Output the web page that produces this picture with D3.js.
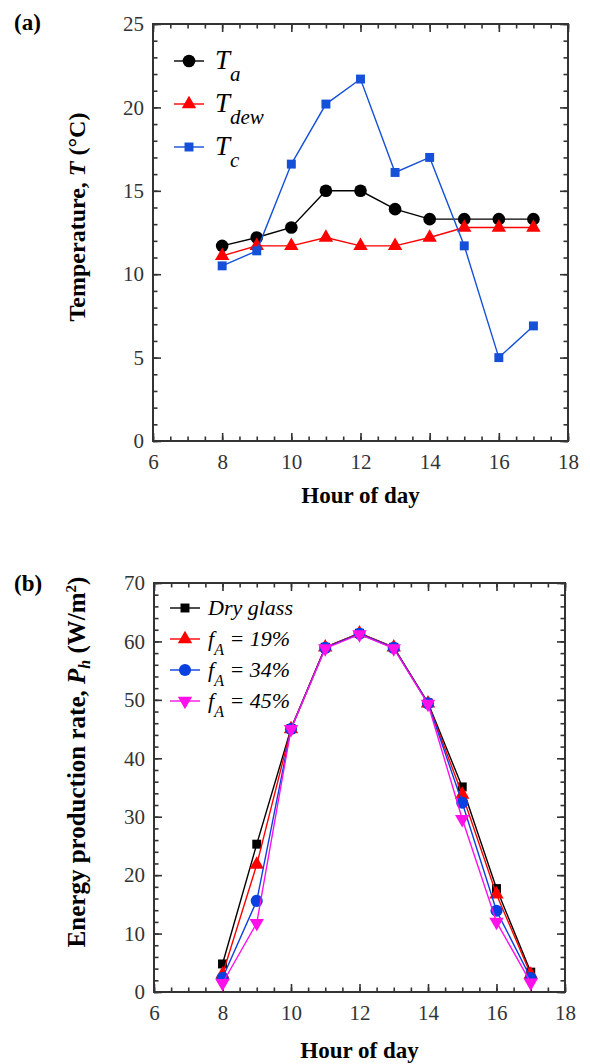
<!DOCTYPE html>
<html>
<head>
<meta charset="utf-8">
<script src="https://cdn.jsdelivr.net/npm/d3@7"></script>
<style>
body { margin: 0; background: #fff; }
svg { display: block; font-family: "Liberation Serif", "Times New Roman", "DejaVu Serif", serif; }
svg text { font-family: "Liberation Serif", "Times New Roman", "DejaVu Serif", serif; }
</style>
</head>
<body>
<svg id="chart" width="590" height="1064"></svg>
<script>
// hours shared by both panels
var hours = [8, 9, 10, 11, 12, 13, 14, 15, 16, 17];

// (a) temperatures, deg C
var tAmbient = [11.7, 12.2, 12.8, 15.0, 15.0, 13.9, 13.3, 13.3, 13.3, 13.3];
var tDew = [11.1, 11.7, 11.7, 12.2, 11.7, 11.7, 12.2, 12.8, 12.8, 12.8];
var tCover = [10.5, 11.4, 16.6, 20.2, 21.7, 16.1, 17.0, 11.7, 5.0, 6.9];

// (b) energy production rate, W/m2
var dryGlass = [4.8, 25.3, 45.1, 59.0, 61.4, 59.0, 49.5, 35.1, 17.7, 3.4];
var fA19 = [3.0, 21.8, 45.0, 59.0, 61.4, 59.0, 49.4, 33.8, 16.7, 3.0];
var fA34 = [2.4, 15.6, 45.0, 58.9, 61.3, 58.9, 49.4, 32.4, 13.9, 2.4];
var fA45 = [1.5, 11.8, 45.0, 58.8, 61.2, 58.8, 49.3, 29.6, 12.0, 1.6];

var xTicks = [6, 8, 10, 12, 14, 16, 18];
var yTicksA = [0, 5, 10, 15, 20, 25];
var yTicksB = [0, 10, 20, 30, 40, 50, 60, 70];

var svg = d3.select("#chart");

function drawFrame(g, x, y, w, h, majX, minX, majY, minY) {
	var axisCol = "#333";
	// minor ticks first, then major
	g.append("g").attr("transform", "translate(0," + h + ")")
		.call(d3.axisBottom(x).tickValues(minX).tickSize(-4.5).tickFormat(""));
	g.append("g")
		.call(d3.axisTop(x).tickValues(minX).tickSize(-4.5).tickFormat(""));
	g.append("g")
		.call(d3.axisLeft(y).tickValues(minY).tickSize(-4.5).tickFormat(""));
	g.append("g").attr("transform", "translate(" + w + ",0)")
		.call(d3.axisRight(y).tickValues(minY).tickSize(-4.5).tickFormat(""));

	g.append("g").attr("transform", "translate(0," + h + ")")
		.call(d3.axisBottom(x).tickValues(majX).tickSize(-8).tickPadding(13).tickFormat(d3.format("d")));
	g.append("g")
		.call(d3.axisTop(x).tickValues(majX).tickSize(-8).tickFormat(""));
	g.append("g")
		.call(d3.axisLeft(y).tickValues(majY).tickSize(-8).tickPadding(9).tickFormat(d3.format("d")));
	g.append("g").attr("transform", "translate(" + w + ",0)")
		.call(d3.axisRight(y).tickValues(majY).tickSize(-8).tickFormat(""));

	g.selectAll("g").attr("font-family", null).attr("font-size", null);
	g.selectAll(".domain").remove();
	g.selectAll(".tick line").attr("stroke", axisCol).attr("stroke-width", 1.6);
	g.selectAll(".tick text").attr("font-size", 21).attr("fill", "#333");
	g.append("rect").attr("width", w).attr("height", h)
		.attr("fill", "none").attr("stroke", axisCol).attr("stroke-width", 2);
}

function marker(sel, shape, col, size) {
	var sym = { circle: d3.symbolCircle, square: d3.symbolSquare, up: d3.symbolTriangle, down: d3.symbolTriangle }[shape];
	sel.attr("d", d3.symbol().type(sym).size(size))
		.attr("fill", col)
		.attr("stroke", "none");
	if (shape == "down") {
		sel.each(function() {
			var t = d3.select(this).attr("transform");
			d3.select(this).attr("transform", t + " rotate(180)");
		});
	}
}

function drawSeries(g, x, y, vals, col, shape, size) {
	var pts = hours.map(function(h, i) { return [h, vals[i]]; });
	g.append("path").datum(pts)
		.attr("fill", "none").attr("stroke", col).attr("stroke-width", 1.4)
		.attr("d", d3.line().x(function(d) { return x(d[0]); }).y(function(d) { return y(d[1]); }));
	g.selectAll(null).data(pts).enter().append("path")
		.attr("transform", function(d) { return "translate(" + x(d[0]) + "," + y(d[1]) + ")"; })
		.call(marker, shape, col, size);
}

function legendRow(g, lx, ly, col, shape, size) {
	g.append("line").attr("x1", lx - 15).attr("x2", lx + 15).attr("y1", ly).attr("y2", ly)
		.attr("stroke", col).attr("stroke-width", 1.4);
	g.append("path").attr("transform", "translate(" + lx + "," + ly + ")")
		.call(marker, shape, col, size);
}

// ---------- panel (a) ----------
var A = { left: 153, top: 24, w: 415, h: 417 };
var xa = d3.scaleLinear().domain([6, 18]).range([0, A.w]);
var ya = d3.scaleLinear().domain([0, 25]).range([A.h, 0]);
var ga = svg.append("g").attr("transform", "translate(" + A.left + "," + A.top + ")");

drawFrame(ga, xa, ya, A.w, A.h, xTicks, d3.range(6, 18.01, 0.5), yTicksA, d3.range(0, 25.01, 1));
drawSeries(ga, xa, ya, tAmbient, "#000", "circle", 125);
drawSeries(ga, xa, ya, tDew, "#ff0000", "up", 90);
drawSeries(ga, xa, ya, tCover, "#1450d8", "square", 80);

var legA = [
	{ col: "#000", shape: "circle", size: 125, sub: "a" },
	{ col: "#ff0000", shape: "up", size: 90, sub: "dew" },
	{ col: "#1450d8", shape: "square", size: 80, sub: "c" }
];
legA.forEach(function(d, i) {
	var ly = 37 + i * 43;
	legendRow(ga, 36, ly, d.col, d.shape, d.size);
	var t = ga.append("text").attr("x", 62).attr("y", ly + 8)
		.attr("font-style", "italic").attr("font-size", 27);
	t.append("tspan").text("T");
	t.append("tspan").attr("dy", 12).attr("font-size", 21).text(d.sub);
});

svg.append("text").attr("x", 14).attr("y", 30)
	.attr("font-weight", "bold").attr("font-size", 23).text("(a)");
svg.append("text").attr("x", A.left + A.w / 2).attr("y", 503).attr("text-anchor", "middle")
	.attr("font-weight", "bold").attr("font-size", 23).text("Hour of day");
var yta = svg.append("text").attr("transform", "translate(85,217) rotate(-90)")
	.attr("text-anchor", "middle").attr("font-weight", "bold").attr("font-size", 24);
yta.append("tspan").text("Temperature, ");
yta.append("tspan").attr("font-style", "italic").text("T");
yta.append("tspan").text(" (°C)");

// ---------- panel (b) ----------
var B = { left: 154, top: 583, w: 411, h: 409 };
var xb = d3.scaleLinear().domain([6, 18]).range([0, B.w]);
var yb = d3.scaleLinear().domain([0, 70]).range([B.h, 0]);
var gb = svg.append("g").attr("transform", "translate(" + B.left + "," + B.top + ")");

drawFrame(gb, xb, yb, B.w, B.h, xTicks, d3.range(6, 18.01, 0.5), yTicksB, d3.range(0, 70.01, 2));
drawSeries(gb, xb, yb, dryGlass, "#000", "square", 80);
drawSeries(gb, xb, yb, fA19, "#ff0000", "up", 90);
drawSeries(gb, xb, yb, fA34, "#0a3fe0", "circle", 115);
drawSeries(gb, xb, yb, fA45, "#ff10e8", "down", 90);

var legB = [
	{ col: "#000", shape: "square", size: 80, pct: null },
	{ col: "#ff0000", shape: "up", size: 90, pct: "19%" },
	{ col: "#0a3fe0", shape: "circle", size: 115, pct: "34%" },
	{ col: "#ff10e8", shape: "down", size: 90, pct: "45%" }
];
legB.forEach(function(d, i) {
	var ly = 25 + i * 31;
	legendRow(gb, 31, ly, d.col, d.shape, d.size);
	var t = gb.append("text").attr("x", 54).attr("y", ly + 7)
		.attr("font-style", "italic").attr("font-size", 22);
	if (d.pct == null) {
		t.text("Dry glass");
	} else {
		t.append("tspan").text("f");
		t.append("tspan").attr("dy", 9).attr("font-size", 16).text("A");
		t.append("tspan").attr("dy", -9).text(" = " + d.pct);
	}
});

svg.append("text").attr("x", 14).attr("y", 591)
	.attr("font-weight", "bold").attr("font-size", 23).text("(b)");
svg.append("text").attr("x", B.left + B.w / 2).attr("y", 1058).attr("text-anchor", "middle")
	.attr("font-weight", "bold").attr("font-size", 23).text("Hour of day");
var ytb = svg.append("text").attr("transform", "translate(85,762) rotate(-90)")
	.attr("text-anchor", "middle").attr("font-weight", "bold").attr("font-size", 25);
ytb.append("tspan").text("Energy production rate, ");
ytb.append("tspan").attr("font-style", "italic").text("P");
ytb.append("tspan").attr("font-style", "italic").attr("font-size", 16).attr("dy", 5).text("h");
ytb.append("tspan").attr("dy", -5).text(" (W/m");
ytb.append("tspan").attr("font-size", 15).attr("dy", -9).text("2");
ytb.append("tspan").attr("dy", 9).text(")");
</script>
</body>
</html>
